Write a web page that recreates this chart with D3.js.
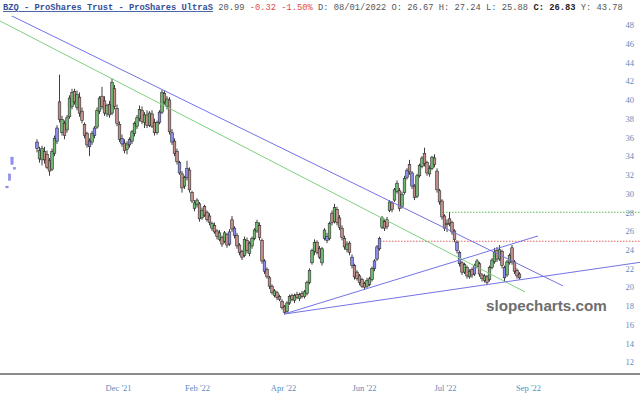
<!DOCTYPE html>
<html><head><meta charset="utf-8">
<script src="https://cdn.jsdelivr.net/npm/d3@7"></script>
<style>body{margin:0;background:#fff}svg{display:block}</style>
</head><body><svg id="c" width="640" height="401"></svg>
<script>
// ---- data (bar index, OHLC) ----
const opens=[34.8,33.7,33.6,34.5,34.2,33.5,32.6,34.3,35.6,39.8,36.5,37.5,36.8,38.2,39.3,40.9,39.2,40.3,38.8,37.4,36.4,35.0,35.5,36.2,37.1,38.8,40.4,39.9,38.5,39.5,38.6,41.2,39.1,37.4,35.9,35.4,34.7,35.2,35.6,36.4,37.2,38.0,38.9,37.6,38.4,37.3,38.5,37.6,36.5,37.6,38.7,40.7,39.3,40.0,36.5,35.6,34.5,33.3,32.1,30.8,31.7,32.5,30.1,28.4,28.8,28.9,27.4,28.6,28.0,27.6,26.3,26.6,26.0,25.1,25.3,24.9,25.6,24.6,27.2,26.3,25.5,24.5,23.8,23.4,25.0,23.6,24.4,25.2,26.0,26.6,25.0,22.8,21.9,21.0,20.1,19.1,19.4,19.0,18.5,17.9,17.4,18.3,19.1,18.6,19.2,18.8,19.3,19.0,19.3,20.5,22.6,23.8,24.8,24.1,22.6,25.2,25.4,25.2,27.9,27.0,28.3,27.4,26.3,25.2,24.0,24.7,23.2,22.3,21.6,21.2,20.8,20.4,20.1,20.3,20.8,22.0,23.0,24.1,26.4,27.0,27.2,28.2,29.0,29.3,30.2,30.3,28.6,30.1,31.7,33.1,32.2,30.8,29.7,31.9,32.9,34.3,33.3,32.1,32.7,33.8,32.4,30.3,29.2,27.6,26.67,27.3,26.9,26.0,24.8,23.7,22.6,21.6,22.1,21.1,21.9,21.4,22.2,22.5,21.3,20.7,21.1,20.8,22.1,22.7,23.9,23.0,23.8,22.1,21.3,22.6,24.2,22.7,21.8,21.4];
const highs=[35.8,35.0,35.1,35.0,34.6,33.8,34.8,36.2,37.3,42.7,38.3,37.8,38.4,40.5,41.2,41.2,41.0,40.8,39.2,37.6,36.6,35.9,36.7,37.2,39.2,40.4,41.4,40.4,39.6,39.9,42.3,41.6,39.5,37.7,36.3,35.8,35.6,36.0,36.8,37.7,38.4,39.4,39.3,38.7,38.9,38.8,38.9,38.0,37.8,38.9,41.1,41.0,40.4,40.3,36.9,35.9,34.8,33.5,32.4,31.9,33.5,32.8,30.3,29.3,29.5,29.1,28.5,28.8,28.2,27.9,27.0,26.9,26.2,26.1,25.5,26.0,25.8,26.2,27.6,26.5,25.8,24.7,24.0,25.4,25.3,24.9,25.4,26.3,27.2,26.9,25.2,23.0,22.1,21.2,20.3,19.8,19.6,19.2,18.7,18.1,18.5,19.2,19.3,19.3,19.5,19.4,19.6,19.7,20.7,22.0,24.1,25.1,25.0,24.4,24.3,26.3,25.8,27.0,28.2,28.9,28.6,27.7,26.6,25.5,24.9,24.9,23.5,22.5,21.8,21.4,21.0,20.6,21.0,21.1,22.2,23.0,24.5,25.4,27.6,27.3,27.5,29.3,29.2,30.6,31.4,30.6,30.2,31.9,32.7,33.6,32.4,31.0,32.1,33.2,34.0,34.9,33.5,33.0,34.0,34.2,32.7,30.5,29.4,27.8,27.24,28.0,27.1,26.2,25.0,23.9,22.8,22.6,22.3,21.9,22.1,22.5,23.0,22.7,21.5,21.4,21.3,22.3,23.1,24.2,24.3,24.5,24.0,22.3,22.9,23.6,24.5,22.9,22.0,21.6];
const lows=[34.4,33.3,33.0,33.2,32.6,31.9,32.4,34.0,35.3,37.6,36.2,35.8,36.5,38.0,39.0,39.5,38.9,38.2,37.5,35.9,34.9,34.0,35.2,35.9,36.9,38.5,39.0,38.3,38.2,38.1,38.4,39.0,37.2,35.5,35.0,34.3,34.2,34.9,35.3,36.1,36.9,37.7,37.4,37.0,37.0,37.1,37.0,36.2,36.3,37.4,38.5,39.5,39.0,36.3,35.2,34.0,33.1,32.0,30.1,30.5,31.4,30.1,29.0,28.1,28.5,27.0,27.2,27.5,27.0,26.6,26.0,25.7,25.1,24.9,24.3,24.7,24.2,24.4,25.9,25.2,24.1,23.4,22.9,23.2,23.6,23.3,24.1,25.0,25.8,25.0,22.5,21.4,20.9,19.8,19.2,18.9,18.6,18.5,17.6,17.1,17.2,18.1,18.5,18.3,18.7,18.5,18.8,18.8,19.1,20.3,22.4,23.4,23.5,23.0,22.3,25.0,24.7,25.0,26.6,26.8,26.6,26.1,25.0,24.0,23.7,23.4,22.0,20.8,20.7,20.2,19.9,19.7,19.9,20.1,20.6,21.7,22.8,23.9,26.2,26.0,26.2,28.0,28.0,29.1,30.0,28.1,28.4,29.9,31.5,32.0,30.5,29.3,29.5,31.7,32.7,32.9,31.9,31.8,32.5,32.8,30.1,28.8,27.2,26.0,25.88,26.5,25.6,24.8,23.6,22.2,21.3,21.4,20.9,20.9,21.0,21.2,22.0,21.1,20.6,20.5,20.2,20.6,21.9,22.5,22.7,22.8,22.0,20.6,21.1,22.4,22.4,21.4,20.9,20.8];
const closes=[35.5,34.6,34.8,33.6,32.8,32.4,34.5,35.9,37.0,37.9,37.9,36.2,38.1,40.2,40.8,39.8,40.6,38.6,37.8,36.2,35.2,35.6,36.4,37.0,38.9,40.2,39.3,38.6,39.4,38.4,41.9,39.3,37.5,35.8,35.3,34.6,35.3,35.8,36.6,37.5,38.1,39.0,37.7,38.4,37.3,38.6,37.2,36.5,37.6,38.7,40.8,39.8,40.1,36.6,35.5,34.3,33.4,32.2,30.6,31.7,32.7,30.4,29.2,29.0,29.3,27.3,28.2,27.7,27.2,26.9,26.8,25.9,25.4,25.8,24.6,25.8,24.5,25.9,26.2,25.5,24.4,23.7,23.2,25.1,23.9,24.7,25.2,26.1,26.9,25.3,22.8,21.7,21.1,20.1,19.4,19.6,18.9,18.7,17.8,17.3,18.3,19.0,18.7,19.1,18.9,19.2,19.0,19.5,20.5,21.8,23.9,24.8,23.7,23.2,24.1,26.1,25.0,26.8,26.9,28.5,26.9,26.4,25.3,24.3,24.6,23.7,22.3,21.1,20.9,20.5,20.1,20.0,20.7,20.9,22.0,22.8,24.3,25.2,27.4,26.3,26.5,29.1,28.3,30.4,31.1,28.4,29.9,31.6,32.5,32.3,30.8,29.6,31.9,33.0,33.8,33.2,32.2,32.7,33.9,33.1,30.4,29.1,27.5,26.3,26.83,26.8,25.9,25.1,23.9,22.5,21.6,22.4,21.2,21.7,21.3,22.3,22.8,21.4,20.9,21.2,20.5,22.1,22.9,23.7,23.0,24.0,22.3,21.0,22.7,23.4,22.7,21.7,21.2,20.99];
const blueBars=[0,8,21,23,34,37,49,54,57,60,77,79,91,116,126,135,136,137,148,150,168,169,175,187];
// a few stray early bars at the far left
const earlyIdx=[-12,-11,-10,-9];
const earlyOpen=[30.8,32.1,33.9,32.8];
const earlyClose=[30.6,31.4,33.1,32.6];
const yTicks=[12,14,16,18,20,22,24,26,28,30,32,34,36,38,40,42,44,46,48];
const xTickIdx=[32.4,64,98.4,130.8,163.2,196.4];
const xTickLabels=["Dec '21","Feb '22","Apr '22","Jun '22","Jul '22","Sep '22"];
// trend lines: [startIdx,startVal,endIdx,endVal]
const trendLines=[
 {p:[-14.8,48.44,195.2,19.49],c:"#7fd07f"},
 {p:[-14.8,49.6,210.4,20.13],c:"#7373e6"},
 {p:[98.8,17.12,200.4,25.47],c:"#7373e6"},
 {p:[98.8,17.12,241.2,22.65],c:"#7373e6"}
];
const hLines=[{from:137.2,val:24.9,c:"#e06060"},{from:162.4,val:28.0,c:"#55bb55"}];
const header=[
 {t:"BZQ - ProShares Trust - ProShares UltraS",c:"#34509a",w:"bold",u:true},
 {t:" 20.99",c:"#555"},
 {t:" -0.32 -1.50%",c:"#e04848"},
 {t:" D: 08/01/2022 O: 26.67 H: 27.24 L: 25.88 ",c:"#555"},
 {t:"C:",c:"#222",w:"bold"},
 {t:" 26.83",c:"#222",w:"bold"},
 {t:" Y: 43.78",c:"#555"}
];

const svg=d3.select("#c");
const x=d3.scaleLinear().domain([0,193]).range([37,519.5]);
const y=d3.scaleLinear().domain([12,48]).range([362,25.1]);
const W=640;

svg.append("defs").append("clipPath").attr("id","plot")
  .append("rect").attr("x",0).attr("y",16).attr("width",W).attr("height",358);

// header
const ht=svg.append("text").attr("x",3).attr("y",10)
  .attr("font-family","'Liberation Mono','Courier New',monospace").attr("font-size",8.75)
  .attr("xml:space","preserve").style("white-space","pre");
header.forEach(h=>{
  ht.append("tspan").text(h.t).attr("fill",h.c).attr("font-weight",h.w||"normal")
    .attr("text-decoration",h.u?"underline":null);
});

// y axis labels (right)
const ya=svg.append("g").attr("transform","translate(634,0)")
  .call(d3.axisLeft(y).tickValues(yTicks).tickSize(0).tickPadding(0).tickFormat(d3.format("d")));
ya.select(".domain").remove();
ya.selectAll("text").attr("fill","#5a8dbd").attr("font-family","'Liberation Serif','Times New Roman',serif").attr("font-size",8.5);

// bottom axis line and labels
svg.append("line").attr("x1",0).attr("x2",W).attr("y1",374).attr("y2",374).attr("stroke","#8c8c8c").attr("stroke-width",2);
const xa=svg.append("g").attr("transform","translate(0,385)")
  .call(d3.axisBottom(x).tickValues(xTickIdx).tickSize(0).tickPadding(0).tickFormat((d,i)=>xTickLabels[i]));
xa.select(".domain").remove();
xa.selectAll("text").attr("fill","#5a8dbd").attr("font-family","'Liberation Serif','Times New Roman',serif").attr("font-size",8.5);

const plot=svg.append("g").attr("clip-path","url(#plot)");

// horizontal dotted levels
hLines.forEach(h=>{
  plot.append("line").attr("x1",x(h.from)).attr("x2",W).attr("y1",y(h.val)).attr("y2",y(h.val))
   .attr("stroke",h.c).attr("stroke-width",1).attr("stroke-dasharray","1.5,1.5");
});

// watermark
svg.append("text").attr("x",486).attr("y",311).text("slopecharts.com")
  .attr("font-family","'Liberation Sans',Arial,sans-serif").attr("font-weight","bold").attr("font-size",15.2).attr("fill","#6e6e6e");

// candles
const data=opens.map((o,i)=>({i,o,h:highs[i],l:lows[i],c:closes[i]}));
const blueSet=new Set(blueBars);
const col=d=>blueSet.has(d.i)?"#8a8af0":(d.c>=d.o?"#6fb66f":"#c38d87");
const bw=2.6;
const g=plot.append("g");
g.selectAll("line.w").data(data).join("line").attr("class","w")
  .attr("x1",d=>x(d.i)).attr("x2",d=>x(d.i)).attr("y1",d=>y(d.h)).attr("y2",d=>y(d.l))
  .attr("stroke","#2a2a2a").attr("stroke-width",0.9);
g.selectAll("rect.b").data(data).join("rect").attr("class","b")
  .attr("x",d=>x(d.i)-bw/2).attr("width",bw)
  .attr("y",d=>y(Math.max(d.o,d.c))).attr("height",d=>Math.max(0.8,Math.abs(y(d.o)-y(d.c))))
  .attr("fill",col).attr("stroke","#2a2a2a").attr("stroke-width",0.6);

const early=earlyIdx.map((e,k)=>({i:e,o:earlyOpen[k],c:earlyClose[k]}));
g.selectAll("rect.e").data(early).join("rect").attr("class","e")
  .attr("x",d=>x(d.i)-1.2).attr("width",2.4)
  .attr("y",d=>y(Math.max(d.o,d.c))).attr("height",d=>Math.max(1,Math.abs(y(d.o)-y(d.c))))
  .attr("fill","#9090ee").attr("stroke","#8080e0").attr("stroke-width",0.4);

// trend lines
trendLines.forEach(t=>{
  plot.append("line").attr("x1",x(t.p[0])).attr("y1",y(t.p[1])).attr("x2",x(t.p[2])).attr("y2",y(t.p[3]))
    .attr("stroke",t.c).attr("stroke-width",1);
});
</script></body></html>
